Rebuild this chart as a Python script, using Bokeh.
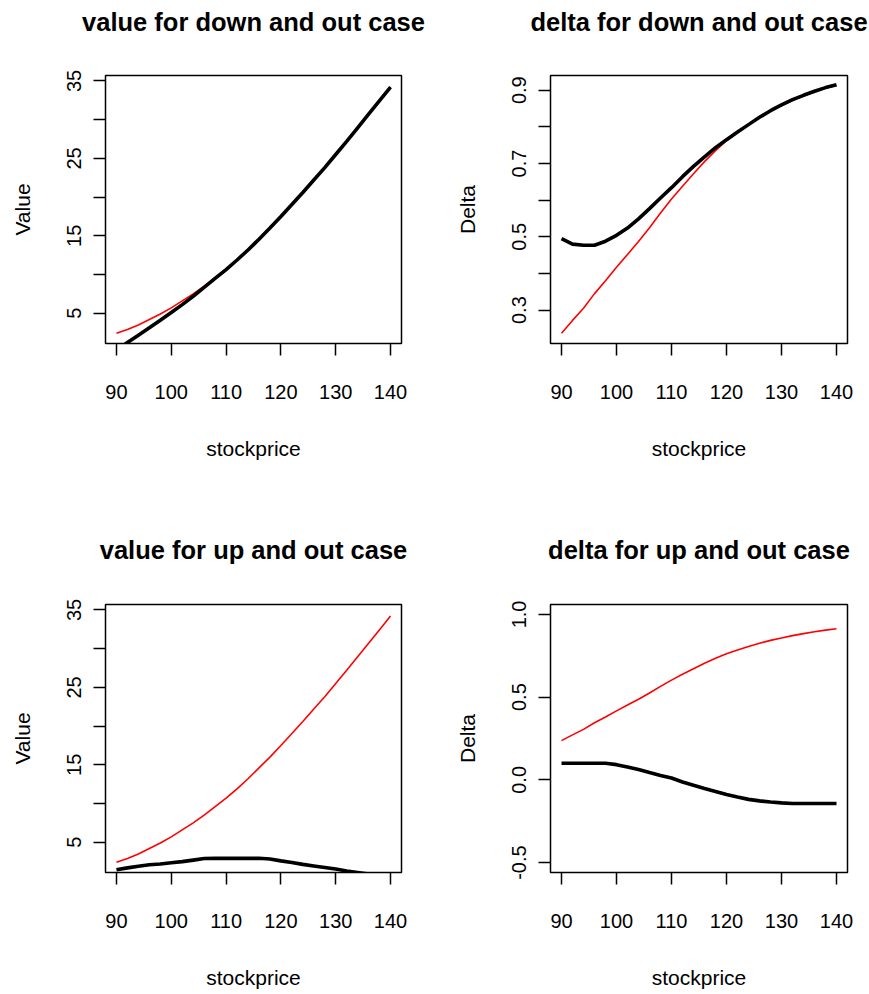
from bokeh.plotting import figure
from bokeh.layouts import row, column
from bokeh.models import FixedTicker, Range1d, Title
from bokeh.embed import file_html
from bokeh.resources import INLINE

# ---- data ----
stockprice = [90, 92, 94, 96, 98, 100, 102, 104, 106, 108, 110, 112, 114,
              116, 118, 120, 122, 124, 126, 128, 130, 132, 134, 136, 138, 140]

# plain (vanilla) call value -- red line in both value panels
value_vanilla = [2.43, 2.9, 3.5, 4.2, 4.9, 5.7, 6.6, 7.5, 8.5, 9.6, 10.7, 11.9, 13.2,
                 14.6, 16.0, 17.5, 19.05, 20.6, 22.2, 23.8, 25.5, 27.2, 28.95, 30.7, 32.45, 34.2]
# down and out barrier value -- black line
value_down_out = [0.25, 1.22, 2.17, 3.12, 4.1, 5.1, 6.12, 7.2, 8.35, 9.5, 10.65, 11.88, 13.17,
                  14.57, 16.02, 17.5, 19.05, 20.6, 22.2, 23.8, 25.5, 27.2, 28.95, 30.7, 32.45, 34.2]
# up and out barrier value -- black line
value_up_out = [1.45, 1.7, 1.9, 2.1, 2.2, 2.35, 2.5, 2.7, 2.9, 2.93, 2.93, 2.93, 2.93,
                2.93, 2.85, 2.6, 2.4, 2.15, 1.95, 1.75, 1.55, 1.3, 1.1, 0.9, 0.7, 0.5]

# plain call delta -- red line in both delta panels
delta_vanilla = [0.237, 0.272, 0.305, 0.345, 0.38, 0.417, 0.452, 0.487, 0.525, 0.565, 0.603,
                 0.638, 0.672, 0.705, 0.735, 0.762, 0.785, 0.806, 0.826, 0.843, 0.858, 0.872,
                 0.884, 0.895, 0.905, 0.913]
# down and out delta -- black line
delta_down_out = [0.495, 0.48, 0.477, 0.477, 0.488, 0.504, 0.524, 0.549, 0.577, 0.606, 0.634,
                  0.664, 0.692, 0.718, 0.743, 0.765, 0.786, 0.806, 0.826, 0.844, 0.86, 0.874,
                  0.886, 0.897, 0.907, 0.915]
# up and out delta -- black line
delta_up_out = [0.1, 0.1, 0.1, 0.1, 0.1, 0.092, 0.078, 0.062, 0.044, 0.027, 0.011, -0.013,
                -0.033, -0.052, -0.07, -0.089, -0.104, -0.118, -0.127, -0.134, -0.139, -0.143,
                -0.143, -0.143, -0.143, -0.143]

x_ticks = [90, 100, 110, 120, 130, 140]
value_ticks = [5, 10, 15, 20, 25, 30, 35]
value_tick_labels = ["5", "", "15", "", "25", "", "35"]
delta_do_ticks = [0.3, 0.4, 0.5, 0.6, 0.7, 0.8, 0.9]
delta_do_tick_labels = ["0.3", "", "0.5", "", "0.7", "", "0.9"]
delta_uo_ticks = [-0.5, 0.0, 0.5, 1.0]
delta_uo_tick_labels = ["-0.5", "0.0", "0.5", "1.0"]

FONT = "Liberation Sans"


def make_panel(width, height, bl, br, bt, bb, title, title_gap, ylabel, yr, yticks, ylabels,
               red, black, xlab_standoff):
    p = figure(width=width, height=height, output_backend="svg", toolbar_location=None,
               x_range=Range1d(88, 142), y_range=Range1d(*yr),
               min_border_left=bl, min_border_right=br,
               min_border_top=bt, min_border_bottom=bb,
               title=None)
    p.background_fill_color = "white"
    p.border_fill_color = "white"
    p.outline_line_color = "black"
    p.outline_line_width = 1.5
    p.xgrid.visible = False
    p.ygrid.visible = False

    # spacer between frame and title, then the title itself
    p.add_layout(Title(text=" ", text_font_size="1px", standoff=title_gap), "above")
    p.add_layout(Title(text=title, text_font=FONT, text_font_size="25.5px",
                       text_font_style="bold", align="center", standoff=0,
                       text_color="black"), "above")

    for ax in (p.xaxis[0], p.yaxis[0]):
        ax.axis_line_color = None
        ax.major_tick_out = 12
        ax.major_tick_in = 0
        ax.major_tick_line_width = 1.5
        ax.major_tick_line_color = "black"
        ax.minor_tick_line_color = None
        ax.major_label_text_font = FONT
        ax.major_label_text_font_size = "20px"
        ax.major_label_text_color = "black"
        ax.axis_label_text_font = FONT
        ax.axis_label_text_font_size = "21px"
        ax.axis_label_text_font_style = "normal"
        ax.axis_label_text_color = "black"

    xa = p.xaxis[0]
    xa.ticker = FixedTicker(ticks=x_ticks)
    xa.major_label_overrides = {t: str(t) for t in x_ticks}
    xa.axis_label = "stockprice"
    xa.major_label_standoff = 29
    xa.axis_label_standoff = xlab_standoff

    ya = p.yaxis[0]
    ya.ticker = FixedTicker(ticks=yticks)
    ya.major_label_overrides = {t: l for t, l in zip(yticks, ylabels)}
    ya.major_label_orientation = "vertical"
    ya.axis_label = ylabel
    ya.major_label_standoff = 12
    ya.axis_label_standoff = 31

    p.line(stockprice, red, line_color="#FF0000", line_width=1.6)
    p.line(stockprice, black, line_color="black", line_width=3.6)
    return p


p1 = make_panel(434, 520, 105, 33, 75, 177, "value for down and out case", 37, "Value",
                (1.1, 35.7), value_ticks, value_tick_labels,
                value_vanilla, value_down_out, 35)
p2 = make_panel(435, 520, 116, 22, 75, 177, "delta for down and out case", 37, "Delta",
                (0.209, 0.94), delta_do_ticks, delta_do_tick_labels,
                delta_vanilla, delta_down_out, 35)
p3 = make_panel(434, 472, 105, 33, 84, 120, "value for up and out case", 38, "Value",
                (1.1, 35.7), value_ticks, value_tick_labels,
                value_vanilla, value_up_out, 35)
p4 = make_panel(435, 472, 116, 22, 84, 120, "delta for up and out case", 38, "Delta",
                (-0.56, 1.06), delta_uo_ticks, delta_uo_tick_labels,
                delta_vanilla, delta_up_out, 35)

layout = column(row(p1, p2), row(p3, p4))

open("out.html", "w").write(file_html(layout, INLINE))
